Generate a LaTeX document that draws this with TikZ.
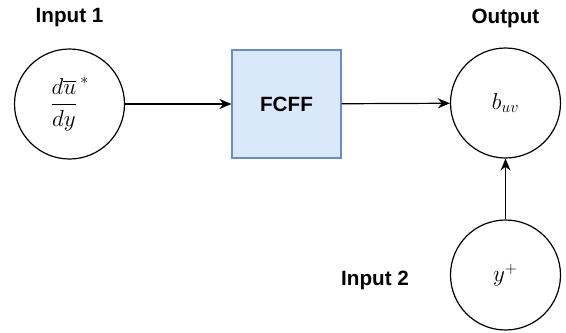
\documentclass[tikz,border=0pt]{standalone}
\usepackage{amsmath}
\usepackage{fontspec}
\setsansfont{Liberation Sans}
\usetikzlibrary{arrows.meta}
\definecolor{ffblue}{HTML}{DAE8FC}
\definecolor{ffline}{HTML}{6C8EBF}

\begin{document}
\begin{tikzpicture}[x=0.75pt,y=-0.75pt,
  cell/.style={circle,draw,line width=0.9pt,minimum size=82.5pt,inner sep=0pt,font=\fontsize{18.5}{22}\selectfont},
  lbl/.style={font=\sffamily\bfseries\fontsize{15.5}{18}\selectfont},
  link/.style={-{Stealth[length=9pt,width=7.5pt]},line width=0.9pt}]

\useasboundingbox (0,0) rectangle (566,332);
% inputs, network block and output
\node[cell] (in1) at (69.5,104) {$\dfrac{d\overline{u}}{dy}^{\,*}$};
\node[lbl,draw=ffline,fill=ffblue,line width=0.9pt,minimum width=81.75pt,minimum height=81pt] (ff) at (286.5,104) {FCFF};
\node[cell] (out) at (505.5,103) {$b_{uv}$};
\node[cell] (in2) at (505.5,275) {$y^{+}$};
\node[lbl] (tin1) at (69.5,18) {Input 1};
\node[lbl] (tout) at (505.5,18) {Output};
\node[lbl] (tin2) at (375,280) {Input 2};

\draw[link] (in1) -- (ff);
\draw[link] (ff) -- (out);
\draw[link] (in2) -- (out);

\end{tikzpicture}
\end{document}
